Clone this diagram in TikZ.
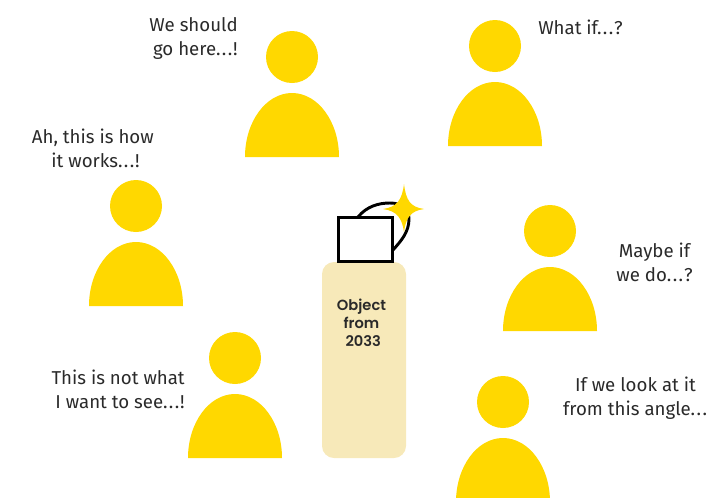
\documentclass[tikz,border=0pt]{standalone}
\usepackage{fontspec}
\setmainfont{Fira Sans}
\newfontfamily\objfont{Poppins SemiBold}
\definecolor{gold}{HTML}{FFD800}
\definecolor{sand}{HTML}{F7E9B9}
\definecolor{ink}{HTML}{2A2A2A}
\newcommand{\dd}{.\kern1.1pt.\kern1.1pt.\kern0.6pt}
\tikzset{
  say/.style={align=center,text=ink,font=\fontsize{14pt}{18pt}\selectfont,inner sep=0pt},
  sayr/.style={say,align=right},
  head/.style={circle,fill=gold,minimum size=39pt,inner sep=0pt}
}
\newcommand{\person}[3]{%
  \node[head] (#3) at (#1,#2) {};
  \fill[gold] (#1-47,#2+100) arc[start angle=180,end angle=360,x radius=47,y radius=64] -- cycle;
}
\begin{document}
\begin{tikzpicture}[x=0.75pt,y=-0.75pt]
\useasboundingbox (0,0) rectangle (707,497);
\clip (0,0) rectangle (707,497);
\person{292}{57}{p1}
\person{495}{46}{p2}
\person{136}{206}{p3}
\person{550}{231}{p4}
\person{235}{358}{p5}
\person{503}{402}{p6}
\fill[sand,rounded corners=9pt] (322,262) rectangle (406,458);
\draw[black,line width=2.2pt] (358,217) .. controls (367,206) and (379,203) .. (390,203) .. controls (402,203) and (409,209) .. (409,219) .. controls (409,232) and (401,241) .. (393,250);
\fill[gold] (404,184) .. controls (406,200) and (410,207) .. (424,209) .. controls (410,211) and (406,218) .. (404,232) .. controls (402,218) and (397,211) .. (383,209) .. controls (397,207) and (402,200) .. (404,184) -- cycle;
\node[draw=black,fill=white,line width=2.2pt,minimum width=40.5pt,minimum height=32.5pt,inner sep=0pt] (sq) at (365.5,239.5) {};
\node[align=center,font=\objfont\fontsize{11pt}{13.6pt}\selectfont,text=ink,inner sep=0pt] (obj) at (361.5,323) {Object\\from\\\ 2033};
\node[sayr,anchor=east] (t1) at (238,38) {We should\\go here\dd!};
\node[say,anchor=west] (t2) at (538,27) {What if\dd?};
\node[sayr,anchor=east] (t3) at (154,148) {Ah, this is how\\it works\dd!\hspace*{10.5pt}\hbox{}};
\node[say,anchor=center] (t4) at (654.5,262) {Maybe if\\we do\dd?};
\node[sayr,anchor=east] (t5) at (185,389) {This is not what\\I want to see\dd!};
\node[say] (t6) at (635.5,398) {If we look at it\\from this angle\dd};
\end{tikzpicture}
\end{document}
